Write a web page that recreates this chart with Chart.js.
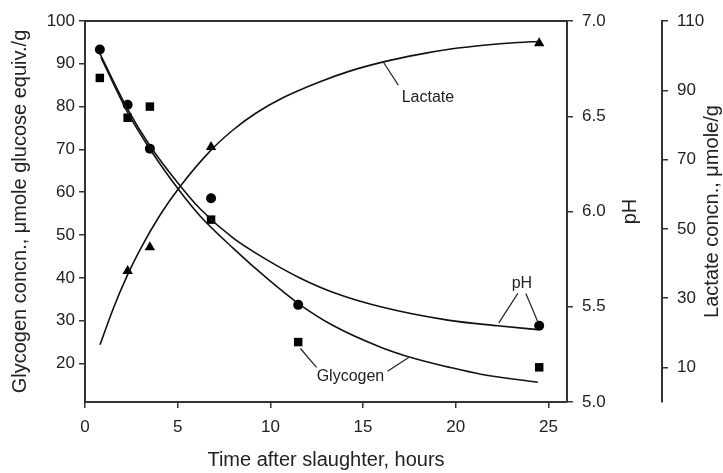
<!DOCTYPE html>
<html>
<head>
<meta charset="utf-8">
<script src="https://cdn.jsdelivr.net/npm/chart.js@4.4.0/dist/chart.umd.min.js"></script>
<style>
  html, body { margin: 0; padding: 0; background: #fff; }
</style>
</head>
<body>
<canvas id="chart" width="723" height="473"></canvas>
<script>
// measured points
const hours = [0.8, 2.3, 3.5, 6.8, 11.5, 24.5];
const glycogen = [86.7, 77.4, 80.0, 53.6, 25.0, 19.1];
const pH = [6.85, 6.56, 6.33, 6.07, 5.51, 5.40];
const lactateHours = [2.3, 3.5, 6.8, 24.5];
const lactate = [37.8, 44.7, 73.6, 103.6];

// fitted curves
const glycogenFitHours = [0.86, 2.27, 3.51, 5.14, 6.22, 8.0, 9.84, 11.51, 13.41, 15.95, 17.73, 19.57, 21.35, 24.43];
const glycogenFit = [91.5, 78.9, 70.05, 60.1, 54.4, 46.9, 39.8, 34.0, 28.8, 23.8, 21.2, 19.2, 17.5, 15.6];
const pHFitHours = [0.81, 2.27, 3.51, 5.14, 6.22, 8.0, 9.84, 11.62, 13.4, 15.95, 19.57, 22.27, 24.43];
const pHFit = [6.827, 6.543, 6.344, 6.134, 6.013, 5.86, 5.745, 5.65, 5.575, 5.50, 5.43, 5.40, 5.38];
const lactateFitHours = [0.81, 1.51, 2.27, 2.97, 4.05, 5.14, 6.76, 8.0, 9.19, 10.7, 12.54, 14.32, 16.1, 17.95, 19.73, 21.5, 23.35, 24.43];
const lactateFit = [16.5, 26.8, 36.4, 44.0, 54.0, 62.3, 72.5, 78.6, 83.3, 87.9, 92.2, 95.6, 98.2, 100.3, 101.9, 103.0, 103.8, 104.1];

// tick labels
const hourTicks = [0, 5, 10, 15, 20, 25];
const glycogenTicks = [20, 30, 40, 50, 60, 70, 80, 90, 100];
const pHTicks = [5.0, 5.5, 6.0, 6.5, 7.0];
const lactateTicks = [10, 30, 50, 70, 90, 110];

// callout labels: text position + leader lines, in data units
const callouts = [
  { text: 'Lactate', axis: 'lac', at: [18.5, 87.8], lines: [[16.1, 98.1, 16.9, 91.5]] },
  { text: 'pH', axis: 'ph', at: [23.57, 5.62], lines: [[22.32, 5.415, 23.35, 5.57], [23.78, 5.57, 24.43, 5.42]] },
  { text: 'Glycogen', axis: 'y', at: [14.32, 17.0], lines: [[11.62, 23.5, 12.49, 19.1], [16.32, 18.2, 17.46, 21.4]] }
];

const ink = '#333';
const textInk = '#222';
Chart.defaults.font.family = '"Liberation Sans", Arial, Helvetica, sans-serif';
Chart.defaults.color = textInk;

const pairs = (xs, ys) => xs.map((x, i) => ({ x: x, y: ys[i] }));
const setTicks = list => scale => { scale.ticks = list.map(v => ({ value: v })); };

const curve = (data, axis) => ({
  data: data, yAxisID: axis, showLine: true, fill: false,
  borderColor: '#111', borderWidth: 1.6, pointRadius: 0,
  cubicInterpolationMode: 'monotone'
});
const marks = (data, axis, style, r) => ({
  data: data, yAxisID: axis, showLine: false,
  pointStyle: style, pointRadius: r,
  pointBackgroundColor: '#000', pointBorderColor: '#000', pointBorderWidth: 0
});

const overlay = {
  id: 'overlay',
  afterDatasetsDraw(chart) {
    const { ctx, chartArea, scales } = chart;
    ctx.save();
    // top edge of the frame
    ctx.strokeStyle = ink;
    ctx.lineWidth = 2;
    ctx.beginPath();
    ctx.moveTo(chartArea.left - 1, chartArea.top);
    ctx.lineTo(chartArea.right + 1, chartArea.top);
    ctx.stroke();

    // callouts
    ctx.strokeStyle = '#222';
    ctx.lineWidth = 1.2;
    ctx.fillStyle = textInk;
    ctx.font = '16px "Liberation Sans", Arial, sans-serif';
    ctx.textAlign = 'center';
    ctx.textBaseline = 'middle';
    callouts.forEach(c => {
      const ys = scales[c.axis];
      c.lines.forEach(l => {
        ctx.beginPath();
        ctx.moveTo(scales.x.getPixelForValue(l[0]), ys.getPixelForValue(l[1]));
        ctx.lineTo(scales.x.getPixelForValue(l[2]), ys.getPixelForValue(l[3]));
        ctx.stroke();
      });
      ctx.fillText(c.text, scales.x.getPixelForValue(c.at[0]), ys.getPixelForValue(c.at[1]));
    });

    // right-hand axis titles, reading bottom to top
    const midY = (chartArea.top + chartArea.bottom) / 2;
    ctx.font = '20px "Liberation Sans", Arial, sans-serif';
    ctx.textBaseline = 'alphabetic';
    [['pH', scales.ph.left + 69], ['Lactate concn., \u03bcmole/g', scales.lac.left + 56]].forEach(t => {
      ctx.save();
      ctx.translate(t[1], midY);
      ctx.rotate(-Math.PI / 2);
      ctx.fillText(t[0], 0, 0);
      ctx.restore();
    });
    ctx.restore();
  }
};

const tickGrid = { drawOnChartArea: false, tickLength: 6, color: ink, lineWidth: 1.5 };
const border = { color: ink, width: 2 };

new Chart(document.getElementById('chart'), {
  type: 'scatter',
  data: {
    datasets: [
      curve(pairs(glycogenFitHours, glycogenFit), 'y'),
      curve(pairs(pHFitHours, pHFit), 'ph'),
      curve(pairs(lactateFitHours, lactateFit), 'lac'),
      marks(pairs(hours, glycogen), 'y', 'rect', 6),
      marks(pairs(hours, pH), 'ph', 'circle', 5),
      marks(pairs(lactateHours, lactate), 'lac', 'triangle', 6)
    ]
  },
  options: {
    responsive: false,
    animation: false,
    events: [],
    layout: { padding: { top: 21, left: 0, right: 0, bottom: 0 } },
    plugins: { legend: { display: false }, tooltip: { enabled: false } },
    scales: {
      x: {
        type: 'linear', position: 'bottom', min: 0, max: 26,
        afterBuildTicks: setTicks(hourTicks),
        afterFit: s => { s.height = 71; },
        grid: tickGrid, border: border,
        ticks: { font: { size: 17 }, padding: 9, color: textInk },
        title: { display: true, text: 'Time after slaughter, hours', font: { size: 20 }, padding: { top: 0, bottom: 1 }, color: textInk }
      },
      y: {
        type: 'linear', position: 'left', min: 11, max: 100,
        afterBuildTicks: setTicks(glycogenTicks),
        afterFit: s => { s.width = 85; },
        grid: tickGrid, border: border,
        ticks: { font: { size: 17 }, padding: 4, color: textInk },
        title: { display: true, text: 'Glycogen concn., \u03bcmole glucose equiv./g', font: { size: 20 }, padding: { top: 8, bottom: 0 }, color: textInk }
      },
      ph: {
        type: 'linear', position: 'right', min: 5, max: 7,
        afterBuildTicks: setTicks(pHTicks),
        afterFit: s => { s.width = 95; },
        grid: tickGrid, border: border,
        ticks: { font: { size: 17 }, padding: 9, color: textInk, callback: v => v.toFixed(1) }
      },
      lac: {
        type: 'linear', position: 'right', min: 0, max: 110,
        afterBuildTicks: setTicks(lactateTicks),
        afterFit: s => { s.width = 61; },
        grid: tickGrid, border: border,
        ticks: { font: { size: 17 }, padding: 9, color: textInk }
      }
    }
  },
  plugins: [overlay]
});
</script>
</body>
</html>
